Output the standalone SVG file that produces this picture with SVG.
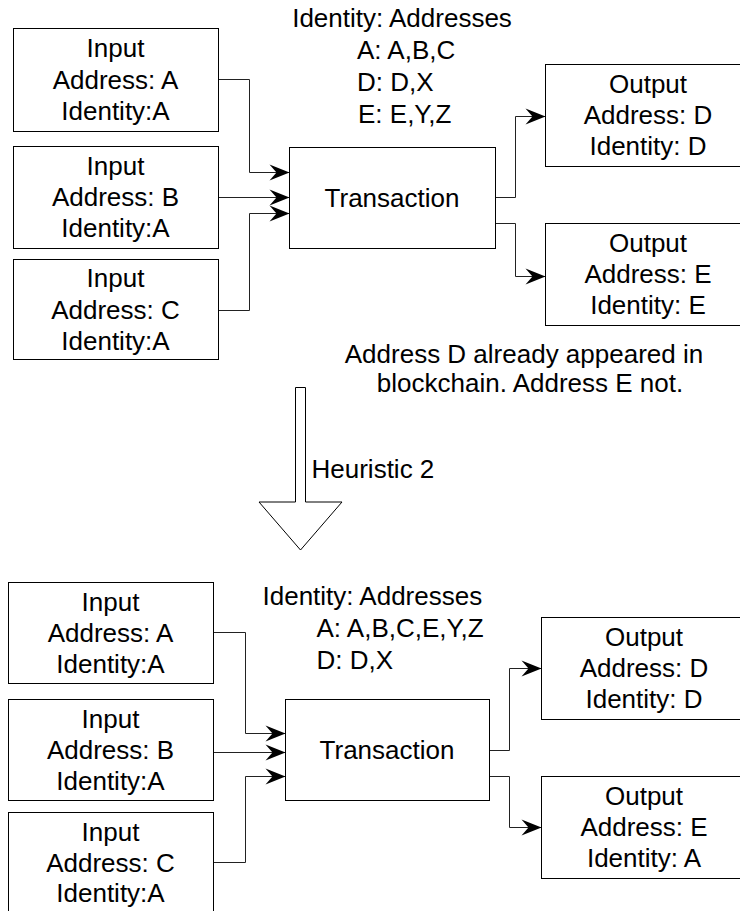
<svg xmlns="http://www.w3.org/2000/svg" width="740" height="911" viewBox="0 0 740 911">
<style>
.box{fill:#fff;stroke:#000;stroke-width:1}
.t{font-family:"Liberation Sans",Arial,Helvetica,sans-serif;font-size:26px;fill:#000;text-anchor:middle}
.l{text-anchor:start}
.c{fill:none;stroke:#222;stroke-width:1;marker-end:url(#arr)}
</style>
<defs>
<marker id="arr" markerUnits="userSpaceOnUse" viewBox="0 0 20 16" markerWidth="20" markerHeight="16" refX="20" refY="8" orient="auto" overflow="visible">
<path d="M0,0 L20,8 L0,16 L7,8 Z" fill="#000"/>
</marker>
</defs>
<rect width="740" height="911" fill="#fff"/>

<g id="connectors">
<path class="c" d="M218.5,79.5 H249.5 V172.5 H289.5"/>
<path class="c" d="M218.5,197.5 H289.5"/>
<path class="c" d="M218.5,310.5 H249.5 V213.5 H289.5"/>
<path class="c" d="M495.5,197.5 H515.5 V116.5 H545.5"/>
<path class="c" d="M495.5,223.5 H515.5 V276.5 H545.5"/>
<path class="c" d="M213.5,632.5 H245.5 V733.5 H285.5"/>
<path class="c" d="M213.5,752.5 H285.5"/>
<path class="c" d="M213.5,862.5 H245.5 V776.5 H285.5"/>
<path class="c" d="M489.5,750.5 H509.5 V668.5 H541.5"/>
<path class="c" d="M489.5,776.5 H509.5 V827.5 H541.5"/>
</g>

<g id="top-identities">
<text class="t" x="402" y="27">Identity: Addresses</text>
<text class="t l" x="357" y="59">A: A,B,C</text>
<text class="t l" x="357" y="91">D: D,X</text>
<text class="t l" x="358" y="123">E: E,Y,Z</text>
</g>

<g id="top-input-a">
<rect class="box" x="13.5" y="28.5" width="205" height="103"/>
<text class="t" x="115.5" y="57.4">Input</text>
<text class="t" x="115.5" y="88.6">Address: A</text>
<text class="t" x="115.5" y="119.8">Identity:A</text>
</g>
<g id="top-input-b">
<rect class="box" x="13.5" y="146.5" width="205" height="102"/>
<text class="t" x="115.5" y="175">Input</text>
<text class="t" x="115.5" y="206">Address: B</text>
<text class="t" x="115.5" y="237">Identity:A</text>
</g>
<g id="top-input-c">
<rect class="box" x="13.5" y="259.5" width="205" height="100"/>
<text class="t" x="115.5" y="287.4">Input</text>
<text class="t" x="115.5" y="318.6">Address: C</text>
<text class="t" x="115.5" y="349.8">Identity:A</text>
</g>
<g id="top-transaction">
<rect class="box" x="289.5" y="147.5" width="206" height="101"/>
<text class="t" x="392" y="206.6">Transaction</text>
</g>
<g id="top-output-d">
<rect class="box" x="545.5" y="64.5" width="206" height="102"/>
<text class="t" x="648" y="93">Output</text>
<text class="t" x="648" y="124">Address: D</text>
<text class="t" x="648" y="155">Identity: D</text>
</g>
<g id="top-output-e">
<rect class="box" x="545.5" y="223.5" width="206" height="102"/>
<text class="t" x="648" y="252">Output</text>
<text class="t" x="648" y="283">Address: E</text>
<text class="t" x="648" y="314">Identity: E</text>
</g>

<g id="note">
<text class="t" x="524" y="363">Address D already appeared in</text>
<text class="t" x="530" y="392">blockchain. Address E not.</text>
</g>

<g id="heuristic-arrow">
<polygon points="295.5,387.5 305.5,387.5 305.5,502 342,502 300.5,550 259,502 295.5,502" fill="#fff" stroke="#000" stroke-width="1"/>
<text class="t l" x="311.5" y="478">Heuristic 2</text>
</g>

<g id="bottom-identities">
<text class="t l" x="262.5" y="605">Identity: Addresses</text>
<text class="t l" x="316.5" y="637">A: A,B,C,E,Y,Z</text>
<text class="t l" x="316.5" y="669">D: D,X</text>
</g>

<g id="bottom-input-a">
<rect class="box" x="8.5" y="582.5" width="205" height="101"/>
<text class="t" x="110.5" y="610.5">Input</text>
<text class="t" x="110.5" y="641.6">Address: A</text>
<text class="t" x="110.5" y="672.8">Identity:A</text>
</g>
<g id="bottom-input-b">
<rect class="box" x="8.5" y="699.5" width="205" height="101"/>
<text class="t" x="110.5" y="727.5">Input</text>
<text class="t" x="110.5" y="758.6">Address: B</text>
<text class="t" x="110.5" y="789.8">Identity:A</text>
</g>
<g id="bottom-input-c">
<rect class="box" x="8.5" y="812.5" width="205" height="102"/>
<text class="t" x="110.5" y="840.5">Input</text>
<text class="t" x="110.5" y="871.6">Address: C</text>
<text class="t" x="110.5" y="902">Identity:A</text>
</g>
<g id="bottom-transaction">
<rect class="box" x="285.5" y="699.5" width="204" height="101"/>
<text class="t" x="387" y="758.6">Transaction</text>
</g>
<g id="bottom-output-d">
<rect class="box" x="541.5" y="617.5" width="206" height="102"/>
<text class="t" x="644" y="646">Output</text>
<text class="t" x="644" y="677">Address: D</text>
<text class="t" x="644" y="708">Identity: D</text>
</g>
<g id="bottom-output-e">
<rect class="box" x="541.5" y="776.5" width="206" height="102"/>
<text class="t" x="644" y="805">Output</text>
<text class="t" x="644" y="836">Address: E</text>
<text class="t" x="644" y="867">Identity: A</text>
</g>
</svg>
